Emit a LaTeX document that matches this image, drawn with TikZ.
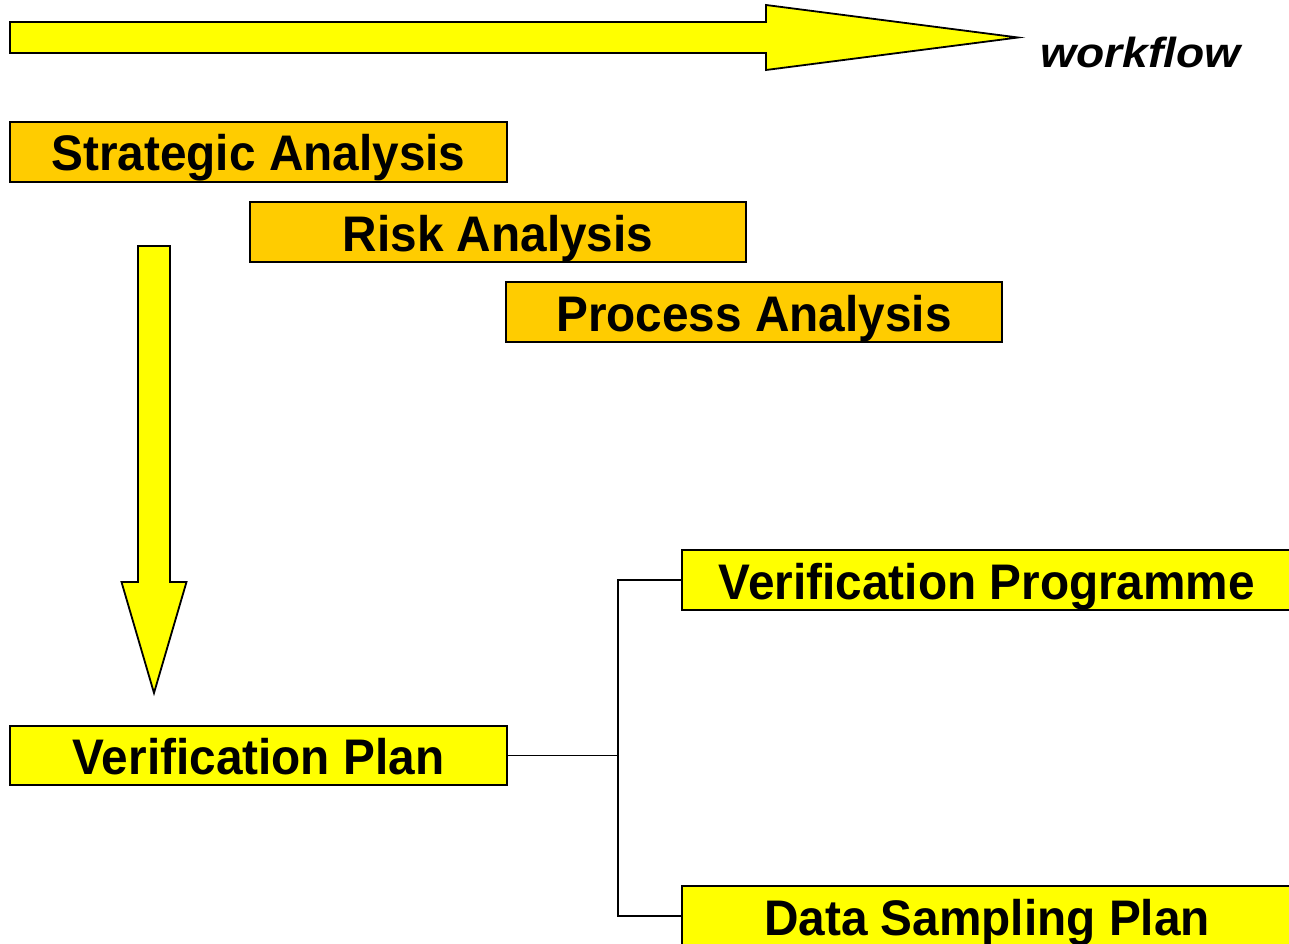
\documentclass[tikz,border=0pt]{standalone}
\usepackage{fontspec}
\setmainfont{Liberation Sans}
\newfontfamily\boxfont{Liberation Sans}[FakeStretch=0.955]
\definecolor{stageorange}{HTML}{FFCC00}
\definecolor{markyellow}{HTML}{FFFF00}
\tikzset{
  labelbox/.style={draw=black, line width=1.3pt, inner sep=0pt,
    minimum height=60pt, text height=38pt, text depth=0pt,
    font=\boxfont\bfseries\fontsize{50}{56}\selectfont},
  stagebox/.style={labelbox, fill=stageorange},
  planbox/.style={labelbox, fill=markyellow},
  bigarrow/.style={draw=black, line width=1.8pt, fill=markyellow, line join=miter},
  conn/.style={draw=black, line width=1.4pt}
}
\begin{document}
\begin{tikzpicture}[x=1pt,y=-1pt]
  \useasboundingbox (0,0) rectangle (1289,944);

  % workflow direction arrow
  \draw[bigarrow] (10,22) -- (766,22) -- (766,5) -- (1018,37.5)
    -- (766,70) -- (766,53) -- (10,53) -- cycle;
  \node[anchor=base west, inner sep=0pt] (wf) at (1040,68)
    {\scalebox{1.1}[1]{\fontsize{42}{46}\selectfont\bfseries\itshape workflow}};

  % analysis stages
  \node[stagebox, minimum width=497pt] (strat) at (258.5,152) {Strategic Analysis};
  \node[stagebox, minimum width=496pt] (risk) at (498,232) {Risk Analysis};
  \node[stagebox, minimum width=496pt] (proc) at (754,312) {Process Analysis};

  % downward arrow
  \draw[bigarrow] (138,246) -- (170,246) -- (170,582) -- (186.5,582)
    -- (154,693) -- (121.5,582) -- (138,582) -- cycle;

  % verification outputs
  \node[planbox, minimum width=497pt, minimum height=59pt] (vplan) at (258.5,755.5) {Verification Plan};
  \node[planbox, minimum width=610pt] (vprog) at (987,580) {Verification Programme};
  \node[planbox, minimum width=610pt] (dsp) at (987,916) {Data Sampling Plan};

  % connectors
  \coordinate (junc) at (618,755.5);
  \draw[conn] (vplan.east) -- (junc);
  \draw[conn] (vprog.west) -| (junc);
  \draw[conn] (dsp.west) -| (junc);
\end{tikzpicture}
\end{document}
